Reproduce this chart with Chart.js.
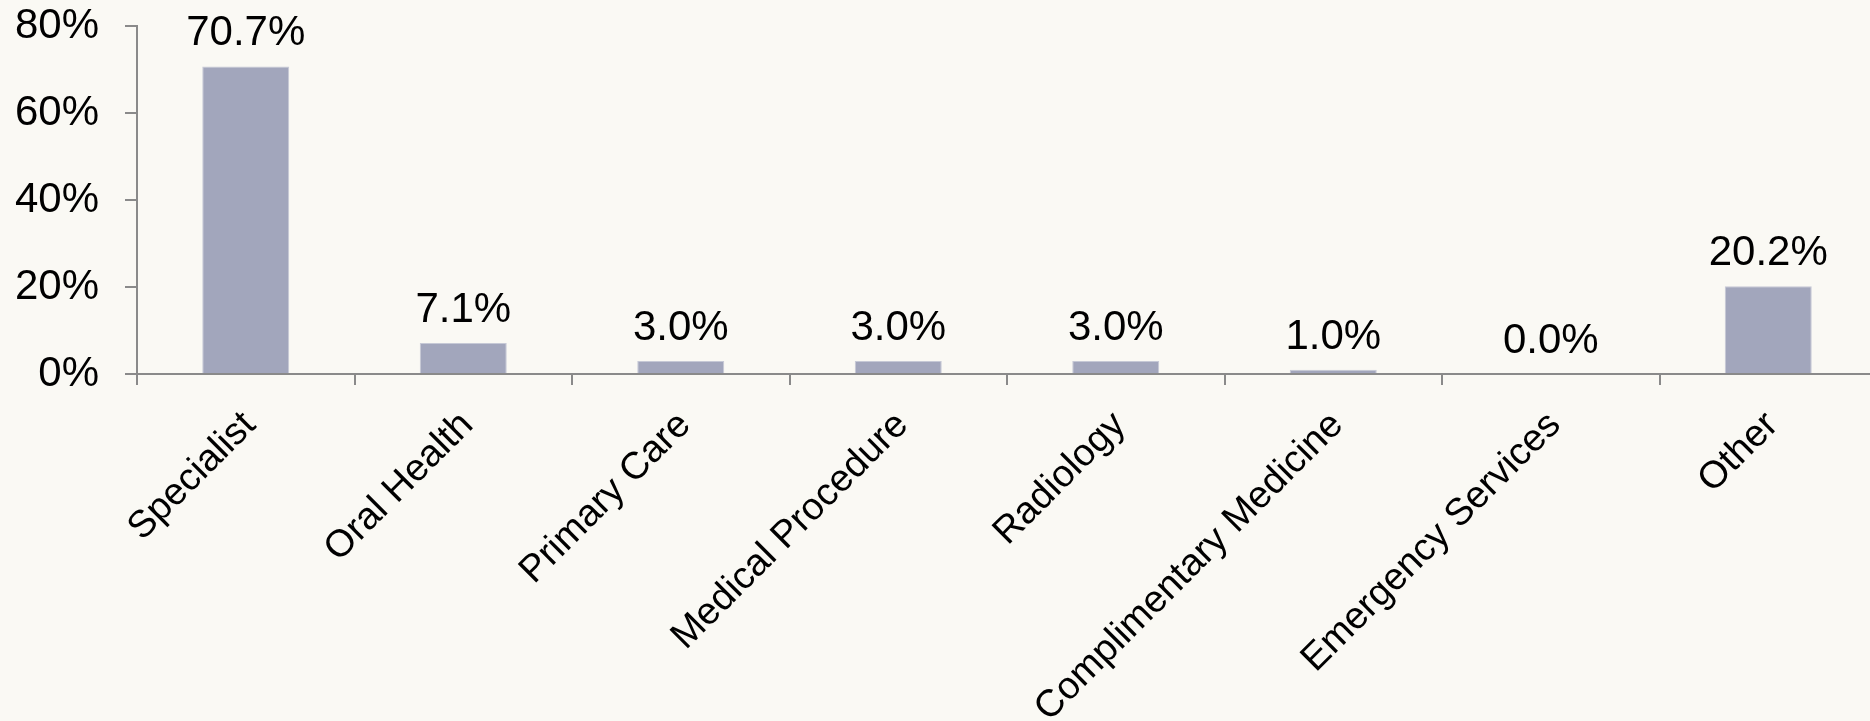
<!DOCTYPE html>
<html>
<head>
<meta charset="utf-8">
<script src="https://cdn.jsdelivr.net/npm/chart.js@4.4.1/dist/chart.umd.min.js"></script>
<style>
  html, body { margin: 0; padding: 0; background: #faf9f4; overflow: hidden; }
  #wrap { width: 1880px; height: 721px; }
</style>
</head>
<body>
<div id="wrap"><canvas id="chart" width="1880" height="721"></canvas></div>
<script>
const categories = [
  "Specialist",
  "Oral Health",
  "Primary Care",
  "Medical Procedure",
  "Radiology",
  "Complimentary Medicine",
  "Emergency Services",
  "Other",
];
const shares = [70.7, 7.1, 3.0, 3.0, 3.0, 1.0, 0.0, 20.2];
const yTicks = [0, 20, 40, 60, 80];

const FONT = "'Liberation Sans', Arial, sans-serif";
const AXIS = "#8a8a8a";

// value labels above the bars
const barLabels = {
  id: "barLabels",
  afterDatasetsDraw(chart) {
    const ctx = chart.ctx;
    const meta = chart.getDatasetMeta(0);
    ctx.save();
    ctx.font = "42px " + FONT;
    ctx.fillStyle = "#000";
    ctx.textAlign = "center";
    ctx.textBaseline = "alphabetic";
    meta.data.forEach((bar, i) => {
      ctx.fillText(shares[i].toFixed(1) + "%", bar.x, bar.y - 21);
    });
    ctx.restore();
  },
};

const context = document.getElementById("chart").getContext("2d");

new Chart(context, {
  type: "bar",
  data: {
    labels: categories,
    datasets: [
      {
        data: shares,
        backgroundColor: "#a2a6bc",
        borderColor: "#c6c9d6",
        borderWidth: 1,
        borderSkipped: "bottom",
        categoryPercentage: 1,
        barPercentage: 0.4,
      },
    ],
  },
  options: {
    responsive: false,
    animation: false,
    events: [],
    layout: { padding: { top: 26, right: 3, left: 0, bottom: 0 } },
    plugins: { legend: { display: false }, tooltip: { enabled: false } },
    scales: {
      x: {
        grid: {
          offset: true,
          drawOnChartArea: false,
          drawTicks: true,
          tickLength: 11,
          color: AXIS,
          lineWidth: 2,
        },
        border: { color: AXIS, width: 2 },
        ticks: {
          color: "#000",
          font: { size: 38, family: FONT },
          minRotation: 45,
          maxRotation: 45,
          autoSkip: false,
          padding: 18,
          labelOffset: 4,
        },
        afterFit(scale) {
          scale.height = 347;
          scale.paddingLeft = 0;
          scale.paddingRight = 0;
        },
      },
      y: {
        min: 0,
        max: 80,
        afterBuildTicks(scale) {
          scale.ticks = yTicks.map((v) => ({ value: v }));
        },
        grid: {
          drawOnChartArea: false,
          drawTicks: true,
          tickLength: 12,
          color: AXIS,
          lineWidth: 2,
        },
        border: { color: AXIS, width: 2 },
        ticks: {
          color: "#000",
          font: { size: 42, family: FONT },
          padding: 26,
          callback: (v) => v + "%",
        },
        afterFit(scale) {
          scale.width = 137;
          scale.paddingTop = 0;
          scale.paddingBottom = 0;
        },
      },
    },
  },
  plugins: [barLabels],
});
</script>
</body>
</html>
